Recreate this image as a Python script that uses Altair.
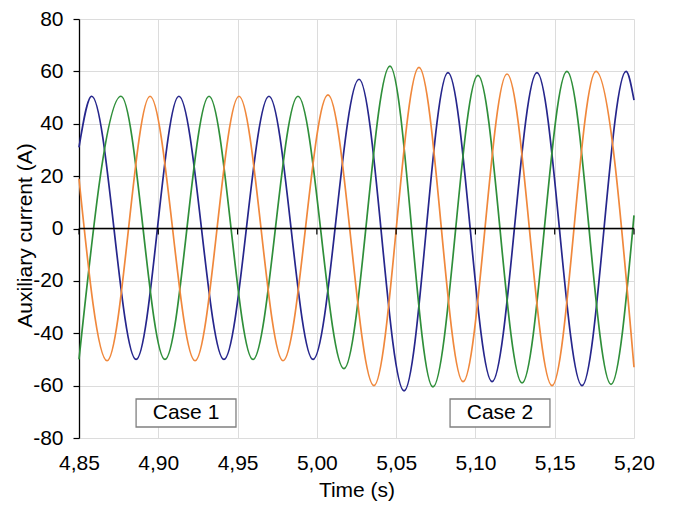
import altair as alt
import pandas as pd

# ---- data ----
series_names = ["Phase 1", "Phase 2", "Phase 3"]
series_colors = ["#26268c", "#2f8f3a", "#f0883c"]

# extrema (peaks / troughs) plus the two end points of each trace
blue_t = [4.850, 4.858, 4.886, 4.913, 4.9414, 4.9698, 4.9976, 5.0266, 5.0550,
          5.0827, 5.1105, 5.1388, 5.1672, 5.1950, 5.200]
blue_v = [31, 50.5, -50, 50.5, -50, 50.5, -50, 57, -62,
          59.5, -58.5, 59.5, -60, 60, 49]

green_t = [4.850, 4.8765, 4.9042, 4.9320, 4.9597, 4.9881, 5.0171, 5.0461,
           5.0732, 5.1016, 5.1294, 5.1577, 5.1855, 5.200]
green_v = [-50, 50.5, -50, 50.5, -50, 50.5, -53.5, 62,
           -60.5, 58.5, -59, 60, -59.5, 5]

orange_t = [4.850, 4.8677, 4.8948, 4.9232, 4.9509, 4.9787, 5.0070, 5.0360,
            5.0644, 5.0922, 5.1199, 5.1483, 5.1760, 5.200]
orange_v = [19, -50.5, 50.5, -50.5, 50.5, -50.5, 51, -60,
            61.5, -58.5, 59, -60, 60, -53]

x_ticks = [4.85, 4.90, 4.95, 5.00, 5.05, 5.10, 5.15, 5.20]
y_ticks = [-80, -60, -40, -20, 0, 20, 40, 60, 80]

case_labels = ["Case 1", "Case 2"]
case_x0 = [4.886, 5.084]
case_x1 = [4.949, 5.147]
case_y0 = [-65.1, -65.1]
case_y1 = [-75.8, -75.8]
case_xc = [4.9175, 5.1155]
case_yc = [-70.5, -70.5]

# ---- tables ----
rows = []
for name, ts, vs in [(series_names[0], blue_t, blue_v),
                     (series_names[1], green_t, green_v),
                     (series_names[2], orange_t, orange_v)]:
    for t, v in zip(ts, vs):
        rows.append({"series": name, "time": t, "current": v})
df = pd.DataFrame(rows)
tick_df = pd.DataFrame({"time": x_ticks, "level": [0] * len(x_ticks)})
zero_df = pd.DataFrame({"level": [0]})
case_df = pd.DataFrame({"label": case_labels, "x0": case_x0, "x1": case_x1,
                        "y0": case_y0, "y1": case_y1, "xc": case_xc, "yc": case_yc})

FONT = "Liberation Sans"
x_scale = alt.Scale(domain=[4.85, 5.20], nice=False, zero=False)
y_scale = alt.Scale(domain=[-80, 80], nice=False, zero=False)

x_axis = alt.Axis(values=x_ticks, title="Time (s)",
                  labelExpr="replace(format(datum.value, '.2f'), '.', ',')",
                  grid=True, domain=False, ticks=False,
                  labelPadding=25, labelBaseline="middle", labelFlush=False,
                  labelOverlap=False,
                  titleY=52, titleBaseline="middle")
y_axis = alt.Axis(values=y_ticks, title="Auxiliary current (A)",
                  labelExpr="'' + datum.value",
                  grid=True, domain=True, domainColor="black", domainWidth=1.3,
                  ticks=True, tickColor="black", tickSize=6, tickWidth=1.2,
                  labelPadding=10, labelFlush=False, labelOverlap=False,
                  titleX=-54, titleY=216, titleBaseline="middle")

lines = alt.Chart(df).mark_line(strokeWidth=1.7, interpolate="monotone").encode(
    x=alt.X("time:Q", scale=x_scale, axis=x_axis, title="Time (s)"),
    y=alt.Y("current:Q", scale=y_scale, axis=y_axis, title="Auxiliary current (A)"),
    color=alt.Color("series:N", scale=alt.Scale(domain=series_names, range=series_colors),
                    legend=None),
)

zero_line = alt.Chart(zero_df).mark_rule(color="black", strokeWidth=1.5).encode(
    y=alt.Y("level:Q", scale=y_scale, axis=y_axis, title="Auxiliary current (A)")
)

zero_ticks = alt.Chart(tick_df).mark_rule(color="black", strokeWidth=1.2, y2Offset=6).encode(
    x=alt.X("time:Q", scale=x_scale, axis=x_axis, title="Time (s)"),
    y=alt.Y("level:Q", scale=y_scale, axis=y_axis, title="Auxiliary current (A)"),
    y2="level:Q",
)

boxes = alt.Chart(case_df).mark_rect(fill="white", stroke="#808080", strokeWidth=1.3).encode(
    x=alt.X("x0:Q", scale=x_scale, axis=x_axis, title="Time (s)"),
    x2="x1:Q",
    y=alt.Y("y0:Q", scale=y_scale, axis=y_axis, title="Auxiliary current (A)"),
    y2="y1:Q",
)

texts = alt.Chart(case_df).mark_text(font=FONT, fontSize=21, color="black",
                                     baseline="middle", align="center").encode(
    x=alt.X("xc:Q", scale=x_scale, axis=x_axis, title="Time (s)"),
    y=alt.Y("yc:Q", scale=y_scale, axis=y_axis, title="Auxiliary current (A)"),
    text="label:N",
)

chart = alt.layer(lines, zero_line, zero_ticks, boxes, texts).properties(
    width=555, height=419,
    autosize=alt.AutoSizeParams(type="none"),
    padding={"left": 71, "top": 11, "right": 31, "bottom": 64},
    background="white",
).configure_view(stroke=None).configure_axis(
    labelFont=FONT, labelFontSize=21, labelColor="black",
    titleFont=FONT, titleFontSize=21, titleColor="black", titleFontWeight="normal",
    gridColor="#dcdcdc", gridWidth=1,
)

chart.save("out.html", embed_options={"renderer": "svg", "actions": False})
